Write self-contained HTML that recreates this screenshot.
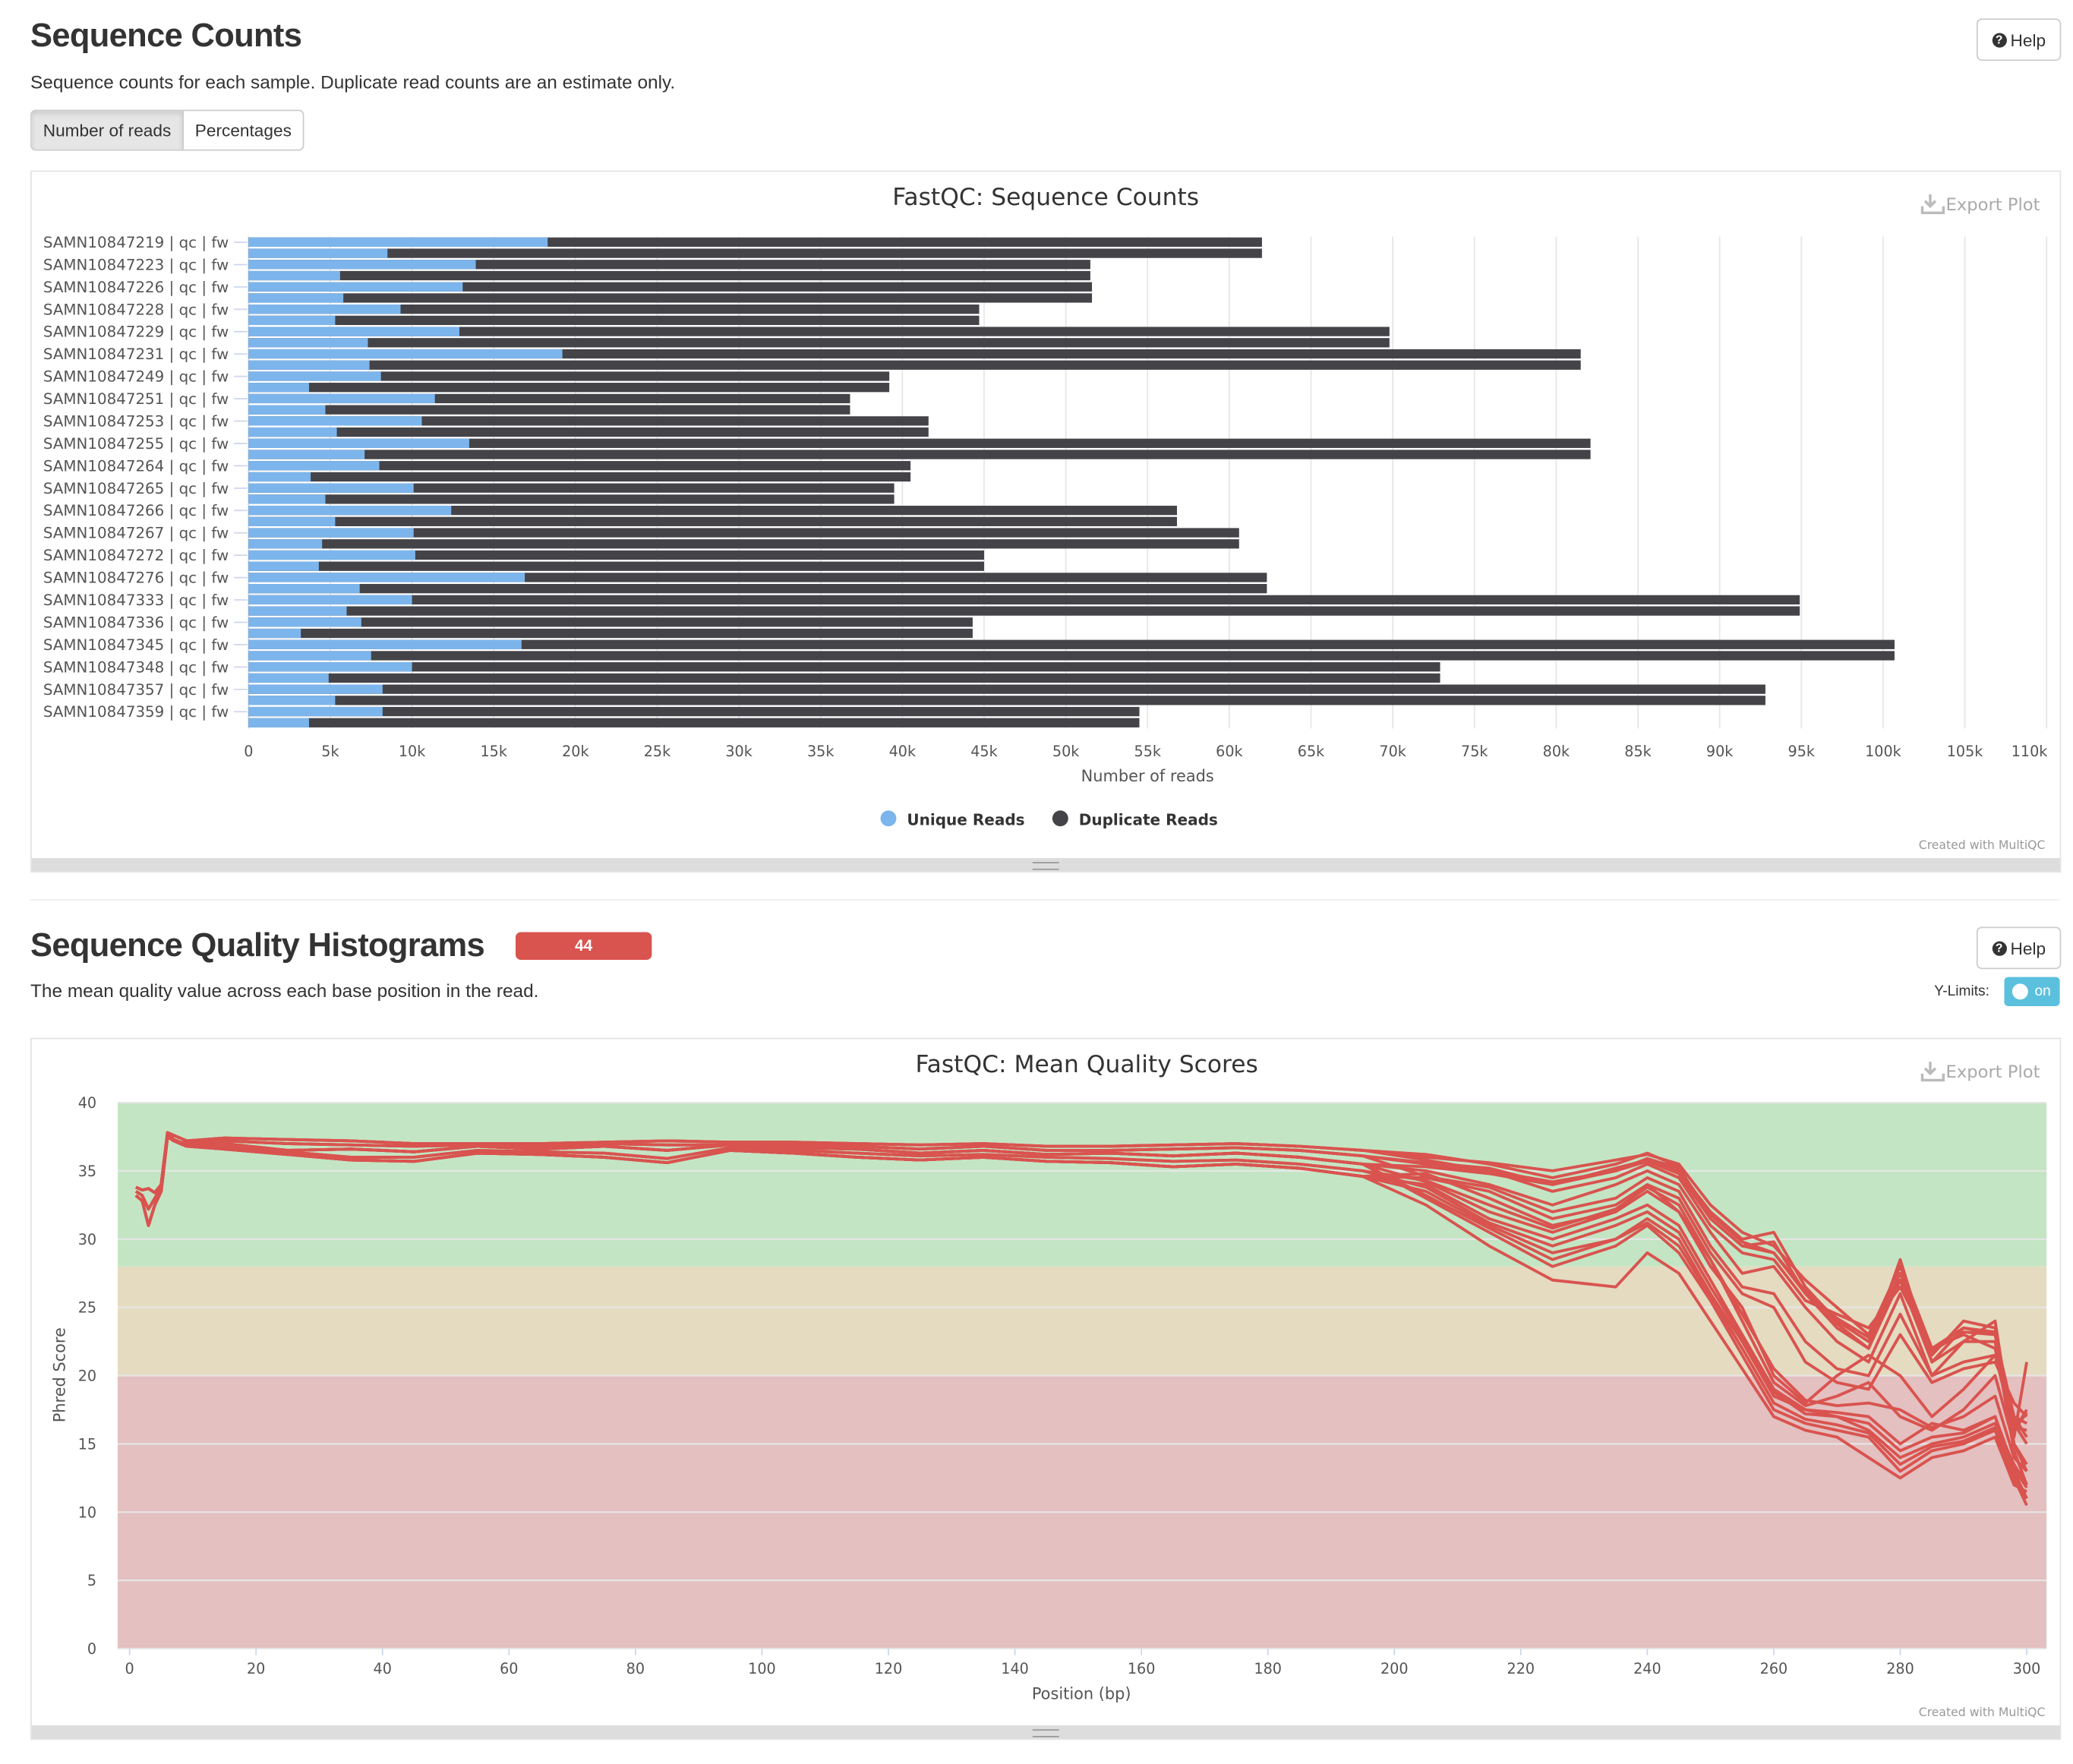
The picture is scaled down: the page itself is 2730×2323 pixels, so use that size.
<!DOCTYPE html>
<html><head><meta charset="utf-8"><style>
html,body{margin:0;padding:0;background:#fff;width:2730px;height:2322px;overflow:hidden}
#root{position:absolute;left:0;top:0;width:1568px;height:1334px;transform:scale(1.74107);transform-origin:0 0;font-family:"Liberation Sans",sans-serif;color:#333}
.abs{position:absolute}
h2{position:absolute;margin:0;font-weight:bold;font-size:25px;color:#333;letter-spacing:-0.4px}
.desc{position:absolute;font-size:14px;color:#333}
.help{position:absolute;border:1px solid #ccc;border-radius:4px;font-size:13px;background:#fff;display:flex;align-items:center;justify-content:center;gap:3px}
.help b{display:inline-block;width:11px;height:11px;border-radius:50%;background:#333;color:#fff;font-size:9px;line-height:11px;text-align:center}
.box{position:absolute;border:1px solid #e3e3e3;background:#fff}
.resize{position:absolute;left:0;right:0;bottom:0;height:10px;background:#ddd}
.resize i{position:absolute;left:50%;top:3px;width:20px;margin-left:-10px;height:4px;border-top:1px solid #999;border-bottom:1px solid #999}
svg text{font-family:"DejaVu Sans",sans-serif}
</style></head><body>
<div id="root">
<h2 style="left:23px;top:13px">Sequence Counts</h2>
<div class="help" style="left:1495px;top:14px;width:62px;height:30px"><b>?</b>Help</div>
<div class="desc" style="left:23px;top:54px">Sequence counts for each sample. Duplicate read counts are an estimate only.</div>
<div class="abs" style="left:23px;top:83px;width:205px;height:29px;border:1px solid #ccc;border-radius:4px;display:flex;font-size:13px;overflow:hidden">
<div style="width:114px;background:#e6e6e6;box-shadow:inset 0 2px 4px rgba(0,0,0,.12);display:flex;align-items:center;justify-content:center;border-right:1px solid #ccc">Number of reads</div>
<div style="flex:1;display:flex;align-items:center;justify-content:center">Percentages</div>
</div>
<div class="box" style="left:23px;top:129px;width:1534px;height:529px">
<div class="resize"><i></i></div>
</div>
<svg class="abs" style="left:0;top:0" width="1568" height="1334" id="svg1"></svg>

<div class="abs" style="left:23px;top:680px;width:1535px;height:1px;background:#eee"></div>
<h2 style="left:23px;top:701px">Sequence Quality Histograms</h2>
<div class="abs" style="left:390px;top:705px;width:103px;height:21px;background:#d9534f;border-radius:4px;color:#fff;font-size:12px;font-weight:bold;text-align:center;line-height:21px">44</div>
<div class="help" style="left:1495px;top:701px;width:62px;height:30px"><b>?</b>Help</div>
<div class="desc" style="left:23px;top:741px">The mean quality value across each base position in the read.</div>
<div class="abs" style="left:1463px;top:744px;font-size:11px">Y-Limits:</div>
<div class="abs" style="left:1516px;top:739px;width:42px;height:22px;background:#5bc0de;border-radius:3px;color:#fff;font-size:11px"><span class="abs" style="left:6px;top:5px;width:12px;height:12px;border-radius:50%;background:#fff"></span><span class="abs" style="left:23px;top:5px">on</span></div>
<div class="box" style="left:23px;top:785px;width:1534px;height:529px">
<div class="resize"><i></i></div>
</div>
<svg class="abs" style="left:0;top:0" width="1568" height="1334" id="svg2"></svg>
</div>
<script>
const samples=["SAMN10847219","SAMN10847223","SAMN10847226","SAMN10847228","SAMN10847229","SAMN10847231","SAMN10847249","SAMN10847251","SAMN10847253","SAMN10847255","SAMN10847264","SAMN10847265","SAMN10847266","SAMN10847267","SAMN10847272","SAMN10847276","SAMN10847333","SAMN10847336","SAMN10847345","SAMN10847348","SAMN10847357","SAMN10847359"];
const totalReadsK=[62.0,51.5,51.6,44.7,69.8,81.5,39.2,36.8,41.6,82.1,40.5,39.5,56.8,60.6,45.0,62.3,94.9,44.3,100.7,72.9,92.8,54.5];
const uniqueFwK=[18.3,13.9,13.1,9.3,12.9,19.2,8.1,11.4,10.6,13.5,8.0,10.1,12.4,10.1,10.2,16.9,10.0,6.9,16.7,10.0,8.2,8.2];
const uniqueRvK=[8.5,5.6,5.8,5.3,7.3,7.4,3.7,4.7,5.4,7.1,3.8,4.7,5.3,4.5,4.3,6.8,6.0,3.2,7.5,4.9,5.3,3.7];
const xTicksK=[0,5,10,15,20,25,30,35,40,45,50,55,60,65,70,75,80,85,90,95,100,105,110];
const NS="http://www.w3.org/2000/svg";
function mk(parent,tag,attrs,text){const e=document.createElementNS(NS,tag);for(const k in attrs)e.setAttribute(k,attrs[k]);if(text!=null)e.textContent=text;parent.appendChild(e);return e;}
(function(){
const svg=document.getElementById('svg1');
const X0=188,X1=1548,Y0=179,Y1=551,MAX=110;
const xs=v=>X0+(v/MAX)*(X1-X0);
const n=samples.length*2,pitch=(Y1-Y0)/n;
let t=mk(svg,'text',{x:791,y:155,'text-anchor':'middle','font-size':18,fill:'#333'},'FastQC: Sequence Counts');


t=mk(svg,'text',{x:1543,y:159,'text-anchor':'end','font-size':13,fill:'#aaa'},'Export Plot');


const ic=mk(svg,'path',{d:'M1460 147v9 M1456 152l4 4 4-4 M1454 156v5h16v-5',stroke:'#bbb','stroke-width':2,fill:'none'});


xTicksK.forEach(v=>{
 const g=mk(svg,'line',{x1:xs(v),x2:xs(v),y1:Y0,y2:Y1,stroke:'#e6e6e6','stroke-width':1});
 
 
 const l=mk(svg,'text',{x:v===110?xs(v)-13:xs(v),y:572,'text-anchor':'middle','font-size':11,fill:'#555'},v===0?'0':v+'k');
 
 
});
mk(svg,'line',{x1:X0,x2:X0,y1:Y0,y2:Y1,stroke:'#ccd6eb','stroke-width':1});
samples.forEach((s,i)=>{
 [uniqueFwK[i],uniqueRvK[i]].forEach((u,j)=>{
  const y=Y0+(i*2+j)*pitch+0.6;
  const h=pitch-1.4;
  const d=mk(svg,'rect',{x:xs(0),y:y,width:xs(totalReadsK[i])-xs(0),height:h,fill:'#434348'});
  
  
  const b=mk(svg,'rect',{x:xs(0),y:y,width:xs(u)-xs(0),height:h,fill:'#7cb5ec'});
  
  
 });
 const yc=Y0+(i*2)*pitch+pitch/2;
 mk(svg,'line',{x1:177,x2:187,y1:yc,y2:yc,stroke:'#ccd6eb'});
 const l=mk(svg,'text',{x:173,y:yc+4,'text-anchor':'end','font-size':11.4,fill:'#555'},s+' | qc | fw');
 
 
});
t=mk(svg,'text',{x:868,y:591,'text-anchor':'middle','font-size':12,fill:'#555'},'Number of reads');


const lg=[["Unique Reads","#7cb5ec",672],["Duplicate Reads","#434348",802]];
lg.forEach(a=>{
 const c=mk(svg,'circle',{cx:a[2],cy:619,r:6,fill:a[1]});
 
 
 const l=mk(svg,'text',{x:a[2]+14,y:624,'font-size':11.5,'font-weight':'bold',fill:'#333'},a[0]);
 
 
});
t=mk(svg,'text',{x:1547,y:642,'text-anchor':'end','font-size':9,fill:'#999'},'Created with MultiQC');


})();
</script>
<script>
const positions=[1,2,3,4,5,6,7,8,9,15,25,35,45,55,65,75,85,95,105,115,125,135,145,155,165,175,185,195,205,215,225,235,240,245,250,255,260,265,270,275,280,285,290,295,298,300];
const yTicks=[0,5,10,15,20,25,30,35,40];
const xTicksPos=[0,20,40,60,80,100,120,140,160,180,200,220,240,260,280,300];
const bandLimits=[20,28,40];
const headA=[33.8,33.6,33.7,33.4,34,37.8,37.6,37.4,37.2];
const headB=[33.2,32.8,31,32.5,33.5,37.5,37.2,37,36.8];
const headC=[33.5,33.2,32.2,33,33.8,37.7,37.3,37.1,37];
const midHigh=[37.4,37.3,37.2,37,37,37,37.1,37.2,37.1,37.1,37,36.9,37,36.8,36.8,36.9,37,36.8,36.5];
const midMid=[37,36.5,36.6,36.4,36.8,36.6,36.8,36.5,36.9,36.7,36.6,36.3,36.5,36.2,36.3,36.1,36.3,36,35.5];
const midLow=[36.6,36.2,35.8,35.7,36.3,36.2,36,35.6,36.5,36.3,36,35.8,36,35.7,35.6,35.3,35.5,35.2,34.6];
const midHigh2=[37.2,37,36.9,36.8,36.9,36.8,37,36.9,36.9,36.9,36.8,36.6,36.8,36.5,36.5,36.6,36.7,36.5,36.1];
const midLow2=[36.8,36.4,36,36,36.5,36.4,36.3,35.9,36.7,36.5,36.3,36.1,36.2,36,35.9,35.7,35.8,35.5,35];
const tail1=[36,35.6,35,35.8,36.2,35.5,32.5,30.5,29.5,27,25,23,28,22,23.5,23,17,16.5];
const tail2=[35.3,34.8,34,35.2,35.8,35,32,30,30.5,26.5,24,22.5,27.5,21.5,24,23.5,16,17.5];
const tail3=[35.8,35,33.5,34.5,35.5,34.5,31,29,28.5,25.5,24.5,23.5,26.5,22,23,22,15.5,21];
const tail4=[35,34,32.5,34,35,34,30.5,27.5,28,25,22.5,21,26,20,22.5,22.5,14.5,12];
const tail5=[34.5,33.5,31.5,32.5,34,33,29,26,25,21,19.5,19,23,19.5,20.5,21,18,17];
const tail6=[34.2,32,30.5,32,33.5,32,28,25,20,18,20,21.5,20,17,19,21.5,16,17.3];
const tail7=[34,31.5,30,31.5,32.5,31,27,23,19,17.5,17.3,17,15,16.5,16,17,13,11];
const tail8=[33.5,31,29,30,31.5,30,26,22.5,18.5,17.5,17,16,14,15,15.5,16.5,13.5,12];
const tail9=[33,30.5,28,29.5,31,29,25.5,21.5,17.5,16.5,16,15.5,13,14.5,15,16,12.5,10.5];
const tail10=[32.5,29.5,27,26.5,29,27.5,24,20.5,17,16,15.5,14,12.5,14,14.5,15.5,12,11.5];
const tail11=[36.2,35.5,34.5,35.5,36.3,35.3,31.5,29.5,29,26,23.5,22,28.5,21,22.5,24,15,13];
const tail12=[34.8,33,31,32,34,32,28.5,24,19.5,17.8,18.5,19.5,17,16,17.5,20,15,13.5];
const tail13=[35.5,35,34.2,35,35.9,35.2,31.8,29.8,29,26.2,24.2,22.8,27,21.8,23.2,23,16.5,15];
const tail14=[34.3,32.5,30.8,32.2,33.8,32.5,28.5,24.5,20.5,18.2,17.8,18,17.5,16.2,17,18.5,14,13];
const tail15=[33.8,31.2,29.5,31,32,30.5,26.5,22.8,18.8,17.2,17,16.5,14.5,15.5,15.8,17,13.2,11.8];
const tail16=[35.6,35.2,34,35,35.7,34.8,31.5,29.5,29.8,26,23.8,22,27,21,23.5,23.2,16.2,16];
const tail17=[33.2,30.8,28.5,30,31.2,29.5,25.8,22,18,16.8,16.4,15.8,13.5,14.8,15.2,16.2,12.8,11];
const tail18=[34.6,33.8,32,33,34.5,33.5,29.5,26.5,26,22.5,20.5,20,24.5,20,21,21.5,17,15.5];
const series=[headA.concat(midHigh,tail1),headB.concat(midMid,tail2),headA.concat(midHigh,tail3),headB.concat(midMid,tail4),headA.concat(midLow,tail5),headB.concat(midMid,tail6),headA.concat(midLow,tail7),headB.concat(midLow,tail8),headA.concat(midMid,tail9),headB.concat(midLow,tail10),headA.concat(midHigh,tail11),headB.concat(midLow,tail12),headC.concat(midHigh2,tail13),headC.concat(midLow2,tail14),headA.concat(midLow2,tail15),headB.concat(midHigh2,tail16),headC.concat(midMid,tail17),headC.concat(midHigh2,tail18)];
(function(){
const svg=document.getElementById('svg2');
const PX0=89,PX1=1548,PY0=834,PY1=1247;
const xs=p=>98+(p/300)*(1533-98);
const ys=q=>PY1-(q/40)*(PY1-PY0);
let t=mk(svg,'text',{x:822,y:811,'text-anchor':'middle','font-size':18,fill:'#333'},'FastQC: Mean Quality Scores');


t=mk(svg,'text',{x:1543,y:815,'text-anchor':'end','font-size':13,fill:'#aaa'},'Export Plot');


mk(svg,'path',{d:'M1460 803v9 M1456 808l4 4 4-4 M1454 812v5h16v-5',stroke:'#bbb','stroke-width':2,fill:'none'});
const bandColors=['#e4c0c0','#e4dbc1','#c4e5c4'];
let lo=0;
bandLimits.forEach((hi,i)=>{
 const r=mk(svg,'rect',{x:PX0,y:ys(hi),width:PX1-PX0,height:ys(lo)-ys(hi),fill:bandColors[i]});
 
 
 lo=hi;
});
yTicks.forEach(v=>{
 const g=mk(svg,'line',{x1:PX0,x2:PX1,y1:ys(v),y2:ys(v),stroke:'#e6e6e6','stroke-width':1.2});
 
 
 const l=mk(svg,'text',{x:73,y:ys(v)+4,'text-anchor':'end','font-size':11,fill:'#555'},String(v));
 
 
});
xTicksPos.forEach(v=>{
 mk(svg,'line',{x1:xs(v),x2:xs(v),y1:PY1,y2:PY1+5,stroke:'#ccd6eb'});
 const l=mk(svg,'text',{x:xs(v),y:1266,'text-anchor':'middle','font-size':11,fill:'#555'},String(v));
 
 
});
series.forEach(vals=>{
 const d=vals.map((q,i)=>(i?'L':'M')+xs(positions[i]).toFixed(1)+' '+ys(q).toFixed(1)).join(' ');
 const p=mk(svg,'path',{d:d,fill:'none',stroke:'#d9534f','stroke-width':2.2,'stroke-linejoin':'round'});
 
 
});
t=mk(svg,'text',{x:818,y:1285,'text-anchor':'middle','font-size':12,fill:'#555'},'Position (bp)');


t=mk(svg,'text',{x:49,y:1040,'text-anchor':'middle','font-size':12,fill:'#555',transform:'rotate(-90 49 1040)'},'Phred Score');


t=mk(svg,'text',{x:1547,y:1298,'text-anchor':'end','font-size':9,fill:'#999'},'Created with MultiQC');


})();
</script>
</body></html>
